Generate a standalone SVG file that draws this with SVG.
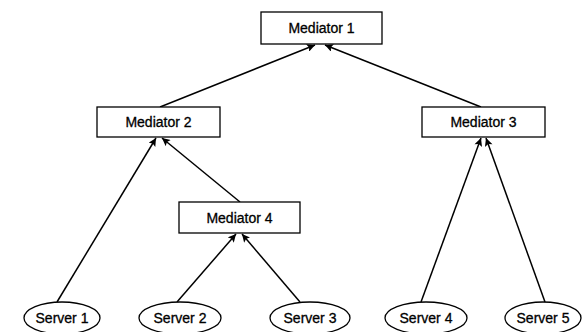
<svg xmlns="http://www.w3.org/2000/svg" width="587" height="332" viewBox="0 0 587 332">
  <defs>
    <marker id="arrow" viewBox="0 0 10 10" refX="10" refY="5" markerWidth="9" markerHeight="8" markerUnits="userSpaceOnUse" orient="auto">
      <path d="M0,0 L10,5 L0,10 L2,5 z" fill="#000"/>
    </marker>
    <style>
      .box { fill: #fff; stroke: #000; stroke-width: 1.3; }
      .srv { fill: #fff; stroke: #000; stroke-width: 1.3; }
      .lbl { font-family: "Liberation Sans", Arial, sans-serif; font-size: 14px; fill: #000; stroke: #000; stroke-width: 0.3; text-anchor: middle; dominant-baseline: central; }
      .edge { stroke: #000; stroke-width: 1.5; fill: none; marker-end: url(#arrow); }
    </style>
  </defs>
  <rect width="587" height="332" fill="#fff"/>

  <!-- connectors: child -> parent -->
  <g id="connectors">
    <line class="edge" x1="160" y1="107" x2="315" y2="45"/>
    <line class="edge" x1="481" y1="107" x2="325" y2="45"/>
    <line class="edge" x1="57" y1="302" x2="156" y2="138"/>
    <line class="edge" x1="240" y1="202" x2="162" y2="138"/>
    <line class="edge" x1="177" y1="302" x2="236" y2="234"/>
    <line class="edge" x1="300" y1="302" x2="242" y2="234"/>
    <line class="edge" x1="421" y1="302" x2="481" y2="138"/>
    <line class="edge" x1="545" y1="302" x2="486" y2="138"/>
  </g>

  <g id="mediator1">
    <rect class="box" x="261" y="12" width="121" height="32"/>
    <text class="lbl" x="321.5" y="28">Mediator 1</text>
  </g>
  <g id="mediator2">
    <rect class="box" x="97" y="107" width="123" height="30"/>
    <text class="lbl" x="158.5" y="122">Mediator 2</text>
  </g>
  <g id="mediator3">
    <rect class="box" x="422" y="107" width="123" height="30"/>
    <text class="lbl" x="483.5" y="122">Mediator 3</text>
  </g>
  <g id="mediator4">
    <rect class="box" x="179" y="202" width="121" height="31"/>
    <text class="lbl" x="239.5" y="217.5">Mediator 4</text>
  </g>

  <g id="server1">
    <ellipse class="srv" cx="62" cy="318" rx="38" ry="16"/>
    <text class="lbl" x="62" y="318">Server 1</text>
  </g>
  <g id="server2">
    <ellipse class="srv" cx="180" cy="318" rx="41" ry="16"/>
    <text class="lbl" x="180" y="318">Server 2</text>
  </g>
  <g id="server3">
    <ellipse class="srv" cx="310" cy="318" rx="40" ry="16"/>
    <text class="lbl" x="310" y="318">Server 3</text>
  </g>
  <g id="server4">
    <ellipse class="srv" cx="426" cy="318" rx="41" ry="16"/>
    <text class="lbl" x="426" y="318">Server 4</text>
  </g>
  <g id="server5">
    <ellipse class="srv" cx="543" cy="318" rx="38" ry="16"/>
    <text class="lbl" x="543" y="318">Server 5</text>
  </g>
</svg>
